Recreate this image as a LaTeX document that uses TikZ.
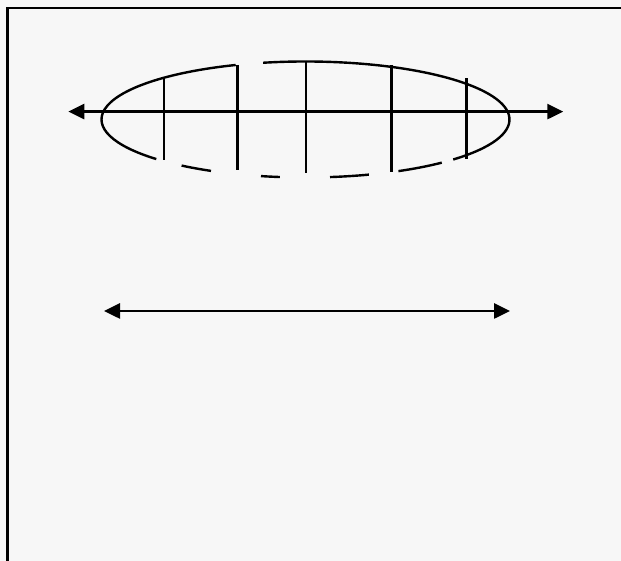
\documentclass[tikz,border=0pt]{standalone}
\usepackage{tikz}
\usetikzlibrary{arrows.meta}
\tikzset{
  rim/.style={line width=2.4bp},
  rib/.style={line width=2.6bp},
  arrow/.style={{Triangle[length=16bp,width=15bp]}-{Triangle[length=16bp,width=15bp]}, line width=2.6bp},
  frame/.style={line width=2.4bp}
}

\begin{document}
\begin{tikzpicture}[x=1bp,y=1bp]
  \fill[white!97!black] (0,0) rectangle (621,561);
  \useasboundingbox (0,0) rectangle (621,561);
  \draw[frame] (7.3,0) -- (7.3,553) -- (621,553);

  \coordinate (ctr) at (305.5,441.5);
  \coordinate (al) at (68.3,449.4);
  \coordinate (ar) at (563.3,449.4);
  \coordinate (bl) at (104,250);
  \coordinate (br) at (510,250);

  \draw[rim] (ctr) ++(110:204bp and 58bp) arc[start angle=110, end angle=223, x radius=204bp, y radius=58bp];
  \draw[rim] (ctr) ++(-43.6:204bp and 58bp) arc[start angle=-43.6, end angle=102, x radius=204bp, y radius=58bp];
  \foreach \a/\b in {232.6/242.4, 257.4/262.8, 276.9/288.1, 297.1/311.9}
    \draw[rim] (ctr) ++(\a:204bp and 58bp) arc[start angle=\a, end angle=\b, x radius=204bp, y radius=58bp];

  \foreach \x/\t/\b in {164/482.7/401, 237.3/496/391, 306/500.3/388.3, 391.7/496/389.3, 466.7/482.7/401.7}
    \draw[rib] (\x,\t) -- (\x,\b);

  \draw[arrow] (al) -- (ar);
  \draw[arrow] (bl) -- (br);
\end{tikzpicture}
\end{document}
